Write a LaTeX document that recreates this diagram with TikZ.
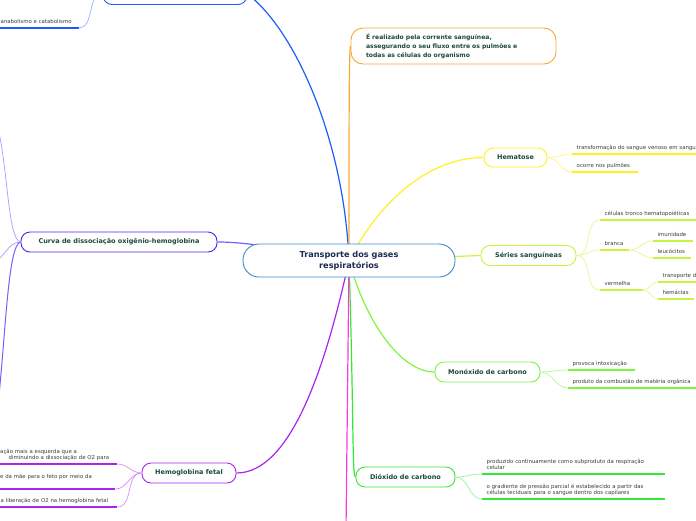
\documentclass[tikz,border=0pt]{standalone}
\usepackage{fontspec}
\setmainfont{DejaVu Sans}
\usepackage{xcolor}
\definecolor{rootBlue}{HTML}{3D8BD1}
\definecolor{rootText}{HTML}{1C2B4F}
\definecolor{topicText}{HTML}{1C4A3C}
\definecolor{leafText}{HTML}{3C3C3C}
\definecolor{mapBlue}{HTML}{1E5BFF}
\definecolor{mapBlueLight}{HTML}{8FB3FF}
\definecolor{mapOrange}{HTML}{F7A833}
\definecolor{mapYellow}{HTML}{FFF01F}
\definecolor{mapYellowLight}{HTML}{FFF57A}
\definecolor{mapLime}{HTML}{C6F53F}
\definecolor{mapLimeLight}{HTML}{DDF98F}
\definecolor{mapGreen}{HTML}{7CF542}
\definecolor{mapGreenLight}{HTML}{B4F98E}
\definecolor{mapDiox}{HTML}{33E833}
\definecolor{mapDioxLight}{HTML}{99F299}
\definecolor{mapPink}{HTML}{FF38DE}
\definecolor{mapViolet}{HTML}{A526EE}
\definecolor{mapVioletLight}{HTML}{D28EF7}
\definecolor{mapIndigo}{HTML}{4A24F2}
\definecolor{mapIndigoMid}{HTML}{7A5CFF}
\definecolor{mapIndigoLight}{HTML}{A899FF}
\usetikzlibrary{backgrounds}

\tikzset{
  topic/.style={draw=#1, line width=0.9pt, fill=white, rounded corners=9pt,
    minimum height=20pt, inner sep=0pt, text=topicText,
    font=\bfseries\fontsize{6.5}{8}\selectfont},
  leaf/.style={anchor=south west, inner xsep=4.5pt, inner ysep=2.8pt,
    text depth=1.2pt, align=left, text=leafText,
    font=\fontsize{5.4}{6.6}\selectfont},
  twolines/.style={text depth=7.8pt},
  uline/.style={draw=#1, line width=1.8pt},
  branch/.style={draw=#1, line width=1.2pt},
  twig/.style={draw=#1, line width=0.7pt},
}

\begin{document}
\begin{tikzpicture}[x=1pt, y=-1pt]
  \useasboundingbox (0,0) rectangle (696,520);
  % central topic
  \node[draw=rootBlue, line width=0.9pt, fill=white, rounded corners=16pt,
    minimum width=212pt, minimum height=33pt, align=center, text=rootText,
    font=\bfseries\fontsize{8.2}{11}\selectfont] (root) at (349,260.5)
    {Transporte dos gases\\respiratórios};

  % main topics
  \node[topic=mapBlue, minimum width=144pt, minimum height=21pt] (top) at (175,-6) {};
  \node[draw=mapOrange, line width=0.9pt, fill=white, rounded corners=12pt,
    minimum height=36pt, text width=175pt, inner xsep=15pt, align=left,
    text=topicText, font=\bfseries\fontsize{6.1}{9}\selectfont] (blood) at (453.5,46)
    {É realizado pela corrente sanguínea,\\assegurando o seu fluxo entre os pulmões e\\todas as células do organismo};
  \node[topic=mapYellow, minimum width=63pt, minimum height=19pt] (hema) at (515.5,157.5) {Hematose};
  \node[topic=mapLime, minimum width=95pt] (series) at (528.5,255.5) {Séries sanguíneas};
  \node[topic=mapGreen, minimum width=105pt] (mono) at (487.5,372) {Monóxido de carbono};
  \node[topic=mapDiox, minimum width=99pt] (diox) at (405.5,477) {Dióxido de carbono};
  \node[topic=mapViolet, minimum width=94pt] (hemo) at (189,473) {Hemoglobina fetal};
  \node[topic=mapIndigo, minimum width=196pt] (curva) at (119,242) {Curva de dissociação oxigênio-hemoglobina};
  \coordinate (pinkend) at (346,530);
  \coordinate (cv1) at (-2,128);
  \coordinate (cv2) at (-10,262);
  \coordinate (cv3) at (-2,405);

  % branches from the centre
  \begin{scope}[on background layer]
    \draw[branch=mapBlue] (root.center) .. controls (344,140) and (295,30) .. (top.east);
    \draw[branch=mapOrange] (root.center) .. controls (349,120) and (349,50) .. (blood.west);
    \draw[branch=mapYellow] (root.center) .. controls (380,200) and (430,157.5) .. (hema.west);
    \draw[branch=mapLime] (root.center) -- (series.west);
    \draw[branch=mapGreen] (root.center) .. controls (365,320) and (400,372) .. (mono.west);
    \draw[branch=mapDiox] (root.center) .. controls (354,420) and (352,477) .. (diox.west);
    \draw[branch=mapPink] (root.center) -- (pinkend);
    \draw[branch=mapViolet] (root.center) .. controls (325,370) and (290,473) .. (hemo.east);
    \draw[branch=mapIndigoMid] (root.center) .. controls (290,250) and (250,242) .. (curva.east);
  \end{scope}

  % top topic
  \node[leaf, text width=73.5pt] (ana) at (-4,27.7) {anabolismo e catabolismo};
  \draw[twig=mapBlueLight] (top.west) to[out=180, in=0] (ana.south east);
  \draw[uline=mapBlue] (ana.south west) -- (ana.south east);

  % Hematose
  \node[leaf, text width=200pt] (hema1) at (572,154) {transformação do sangue venoso em sangue};
  \node[leaf, text width=57pt] (hema2) at (572,172) {ocorre nos pulmões};
  \draw[twig=mapYellowLight] (hema.east) to[out=0, in=180] (hema1.south west);
  \draw[twig=mapYellowLight] (hema.east) to[out=0, in=180] (hema2.south west);
  \draw[uline=mapYellow] (hema1.south west) -- (hema1.south east);
  \draw[uline=mapYellow] (hema2.south west) -- (hema2.south east);

  % Series sanguineas
  \node[leaf, text width=200pt] (ser1) at (600,220) {células tronco hematopoiéticas};
  \node[leaf, text width=20pt] (ser2) at (600,250) {branca};
  \node[leaf, text width=31pt] (ser21) at (653,240.7) {imunidade};
  \node[leaf, text width=29pt] (ser22) at (653,258) {leucócitos};
  \node[leaf, text width=34pt] (ser3) at (600,290) {vermelha};
  \node[leaf, text width=200pt] (ser31) at (658,281.7) {transporte de};
  \node[leaf, text width=27pt] (ser32) at (658,299) {hemácias};
  \draw[twig=mapLimeLight] (series.east) to[out=0, in=180] (ser1.south west);
  \draw[twig=mapLimeLight] (series.east) to[out=0, in=180] (ser2.south west);
  \draw[twig=mapLimeLight] (series.east) to[out=0, in=180] (ser3.south west);
  \draw[twig=mapLimeLight] (ser2.south east) to[out=0, in=180] (ser21.south west);
  \draw[twig=mapLimeLight] (ser2.south east) to[out=0, in=180] (ser22.south west);
  \draw[twig=mapLimeLight] (ser3.south east) to[out=0, in=180] (ser31.south west);
  \draw[twig=mapLimeLight] (ser3.south east) to[out=0, in=180] (ser32.south west);
  \foreach \n in {ser1,ser2,ser21,ser22,ser3,ser31,ser32}
    \draw[uline=mapLime] (\n.south west) -- (\n.south east);

  % Monoxido de carbono
  \node[leaf, text width=58pt] (mono1) at (568,370) {provoca intoxicação};
  \node[leaf, text width=200pt] (mono2) at (568,388) {produto da combustão de matéria orgânica};
  \draw[twig=mapGreenLight] (mono.east) to[out=0, in=180] (mono1.south west);
  \draw[twig=mapGreenLight] (mono.east) to[out=0, in=180] (mono2.south west);
  \draw[uline=mapGreen] (mono1.south west) -- (mono1.south east);
  \draw[uline=mapGreen] (mono2.south west) -- (mono2.south east);

  % Dioxido de carbono
  \node[leaf, twolines, text width=174pt] (diox1) at (482,474)
    {produzido continuamente como subproduto da respiração\\celular};
  \node[leaf, twolines, text width=174pt] (diox2) at (482,499)
    {o gradiente de pressão parcial é estabelecido a partir das\\células teciduais para o sangue dentro dos capilares};
  \draw[twig=mapDioxLight] (diox.east) to[out=0, in=180] (diox1.south west);
  \draw[twig=mapDioxLight] (diox.east) to[out=0, in=180] (diox2.south west);
  \draw[uline=mapDiox] (diox1.south west) -- (diox1.south east);
  \draw[uline=mapDiox] (diox2.south west) -- (diox2.south east);

  % Hemoglobina fetal
  \node[leaf, twolines, text width=112.5pt] (hemo1) at (-4.5,464)
    {ação mais a esquerda que a\\\hspace*{8.5pt}diminuindo a dissociação de O2 para};
  \node[leaf, text width=110.5pt, inner ysep=9.5pt] (hemo2) at (-4.5,489)
    {e da mãe para o feto por meio da};
  \node[leaf, text width=112pt] (hemo3) at (-4,507)
    {a liberação de O2 na hemoglobina fetal};
  \draw[twig=mapVioletLight] (hemo.west) to[out=180, in=0] (hemo1.south east);
  \draw[twig=mapVioletLight] (hemo.west) to[out=180, in=0] (hemo2.south east);
  \draw[twig=mapVioletLight] (hemo.west) to[out=180, in=0] (hemo3.south east);
  \draw[uline=mapViolet] (hemo1.south west) -- (hemo1.south east);
  \draw[uline=mapViolet] (hemo2.south west) -- (hemo2.south east);
  \draw[uline=mapViolet] (hemo3.south west) -- (hemo3.south east);

  % Curva de dissociacao
  \draw[twig=mapIndigoLight] (curva.west) .. controls (8,240) and (8,170) .. (cv1);
  \draw[twig=mapIndigoLight] (curva.west) to[out=180, in=0] (cv2);
  \draw[twig=mapIndigoMid, line width=1pt] (curva.west) .. controls (8,245) and (6,330) .. (cv3);
\end{tikzpicture}
\end{document}
